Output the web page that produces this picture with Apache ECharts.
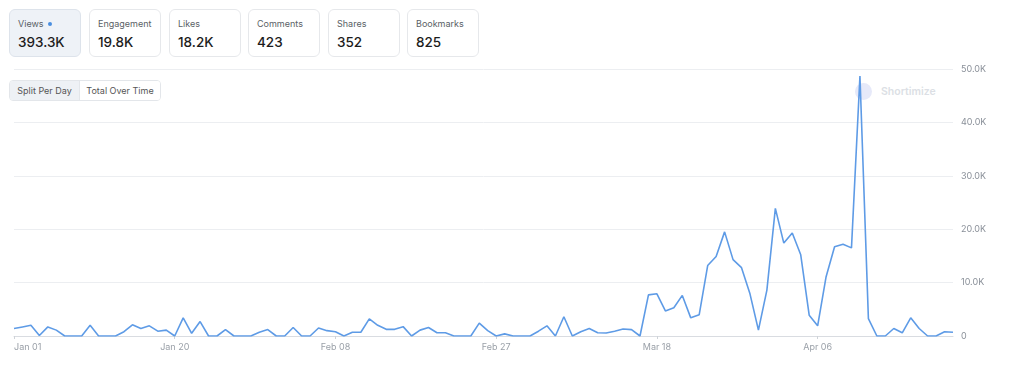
<!DOCTYPE html>
<html>
<head>
<meta charset="utf-8">
<script src="https://cdn.jsdelivr.net/npm/echarts@6/dist/echarts.min.js"></script>
<style>
  html, body { margin: 0; padding: 0; background: #fff; }
  body { width: 1024px; height: 372px; position: relative; overflow: hidden; font-family: Inter, "Liberation Sans", sans-serif; }
  #chart { position: absolute; left: 0; top: 0; width: 1024px; height: 372px; z-index: 1; }
  .card { position: absolute; top: 9px; width: 72px; height: 48px; box-sizing: border-box; border: 1px solid #e6e8eb; border-radius: 6px; background: #fff; z-index: 2; }
  .card.active { background: #eef2f7; border-color: #dde3eb; }
  .card .lbl { position: absolute; left: 8px; top: 8px; font-size: 9px; color: #5a5f66; line-height: 11px; }
  .card .val { position: absolute; left: 8px; top: 24px; font-size: 13.5px; font-weight: 500; color: #1c1c1c; line-height: 17px; }
  .dot { display: inline-block; width: 4px; height: 4px; border-radius: 2px; background: #4a8fe0; margin-left: 4px; vertical-align: 1px; }
  .btns { position: absolute; left: 9px; top: 80px; height: 21px; width: 152px; box-sizing: border-box; border: 1px solid #e3e6ea; border-radius: 4px; z-index: 2; overflow: hidden; display: flex; font-size: 9px; color: #555; }
  .btns div { height: 100%; display: flex; align-items: center; justify-content: center; }
  .btns .b1 { width: 69px; background: #eef1f5; border-right: 1px solid #e3e6ea; }
  .btns .b2 { flex: 1; background: #fff; }
  .wm { position: absolute; left: 855px; top: 83px; z-index: 0; display: flex; align-items: center; }
  .wm .logo { width: 17px; height: 17px; border-radius: 9px; background: #e6e9f9; }
  .wm .txt { margin-left: 9px; font-size: 10.5px; font-weight: 600; color: #dcdfe5; }
</style>
</head>
<body>
<div class="wm"><div class="logo"></div><div class="txt">Shortimize</div></div>
<div id="chart"></div>
<div id="cards"></div>
<div class="btns"><div class="b1">Split Per Day</div><div class="b2">Total Over Time</div></div>
<script>
const cardLabels = ['Views', 'Engagement', 'Likes', 'Comments', 'Shares', 'Bookmarks'];
const cardValues = ['393.3K', '19.8K', '18.2K', '423', '352', '825'];
const cardLefts = [9, 89, 169, 248, 328, 407];

const dates = [
  'Jan 01','Jan 02','Jan 03','Jan 04','Jan 05','Jan 06','Jan 07','Jan 08','Jan 09','Jan 10',
  'Jan 11','Jan 12','Jan 13','Jan 14','Jan 15','Jan 16','Jan 17','Jan 18','Jan 19','Jan 20',
  'Jan 21','Jan 22','Jan 23','Jan 24','Jan 25','Jan 26','Jan 27','Jan 28','Jan 29','Jan 30',
  'Jan 31','Feb 01','Feb 02','Feb 03','Feb 04','Feb 05','Feb 06','Feb 07','Feb 08','Feb 09',
  'Feb 10','Feb 11','Feb 12','Feb 13','Feb 14','Feb 15','Feb 16','Feb 17','Feb 18','Feb 19',
  'Feb 20','Feb 21','Feb 22','Feb 23','Feb 24','Feb 25','Feb 26','Feb 27','Feb 28','Mar 01',
  'Mar 02','Mar 03','Mar 04','Mar 05','Mar 06','Mar 07','Mar 08','Mar 09','Mar 10','Mar 11',
  'Mar 12','Mar 13','Mar 14','Mar 15','Mar 16','Mar 17','Mar 18','Mar 19','Mar 20','Mar 21',
  'Mar 22','Mar 23','Mar 24','Mar 25','Mar 26','Mar 27','Mar 28','Mar 29','Mar 30','Mar 31',
  'Apr 01','Apr 02','Apr 03','Apr 04','Apr 05','Apr 06','Apr 07','Apr 08','Apr 09','Apr 10',
  'Apr 11','Apr 12','Apr 13','Apr 14','Apr 15','Apr 16','Apr 17','Apr 18','Apr 19','Apr 20',
  'Apr 21','Apr 22'
];

const views = [
  1400, 1700, 2000, 100, 1700, 1100, 0, 0, 0, 2000,
  0, 0, 0, 800, 2100, 1400, 1900, 900, 1100, 0,
  3400, 500, 2700, 0, 0, 1200, 0, 0, 0, 700,
  1200, 0, 0, 1600, 0, 0, 1500, 1000, 800, 0,
  700, 700, 3200, 2000, 1250, 1250, 1750, 0, 1100, 1600,
  600, 600, 0, 0, 0, 2400, 1000, 0, 400, 0,
  0, 0, 900, 1900, 0, 3600, 0, 800, 1400, 600,
  550, 900, 1300, 1200, 0, 7700, 7900, 4700, 5300, 7600,
  3400, 4000, 13200, 14900, 19500, 14300, 12800, 7900, 1100, 8600,
  23900, 17400, 19300, 15200, 3900, 1900, 11100, 16700, 17200, 16500,
  48700, 3250, 0, 0, 1400, 600, 3400, 1400, 0, 0,
  800, 700
];

const yMax = 50000;
const yStep = 10000;

const cardsEl = document.getElementById('cards');
cardLabels.forEach((l, i) => {
  const c = document.createElement('div');
  c.className = 'card' + (i === 0 ? ' active' : '');
  c.style.left = cardLefts[i] + 'px';
  c.innerHTML = '<div class="lbl">' + l + (i === 0 ? '<span class="dot"></span>' : '') + '</div><div class="val">' + cardValues[i] + '</div>';
  cardsEl.appendChild(c);
});

const chart = echarts.init(document.getElementById('chart'), null, { renderer: 'canvas' });
chart.setOption({
  animation: false,
  backgroundColor: 'transparent',
  grid: { left: 14, right: 71, top: 69, bottom: 36, containLabel: false },
  xAxis: {
    type: 'category',
    data: dates,
    boundaryGap: false,
    axisLine: { lineStyle: { color: '#d9dce1', width: 1 } },
    axisTick: { show: true, interval: 18, length: 3, lineStyle: { color: '#cfd3d8' } },
    axisLabel: { interval: 18, color: '#9aa0a8', fontSize: 9, fontFamily: 'Inter', margin: 7, alignMinLabel: 'left' },
    splitLine: { show: false }
  },
  yAxis: {
    type: 'value',
    position: 'right',
    min: 0,
    max: yMax,
    interval: yStep,
    axisLine: { show: false },
    axisTick: { show: false },
    axisLabel: {
      color: '#8a9099', fontSize: 9, fontFamily: 'Inter', margin: 8,
      formatter: v => v === 0 ? '0' : (v / 1000).toFixed(1) + 'K'
    },
    splitLine: { lineStyle: { color: '#eceef1', width: 1 } }
  },
  series: [{
    type: 'line',
    data: views,
    showSymbol: false,
    symbol: 'none',
    lineStyle: { color: '#5e9be6', width: 1.6 },
    itemStyle: { color: '#5e9be6' },
    z: 3
  }]
});
</script>
</body>
</html>
